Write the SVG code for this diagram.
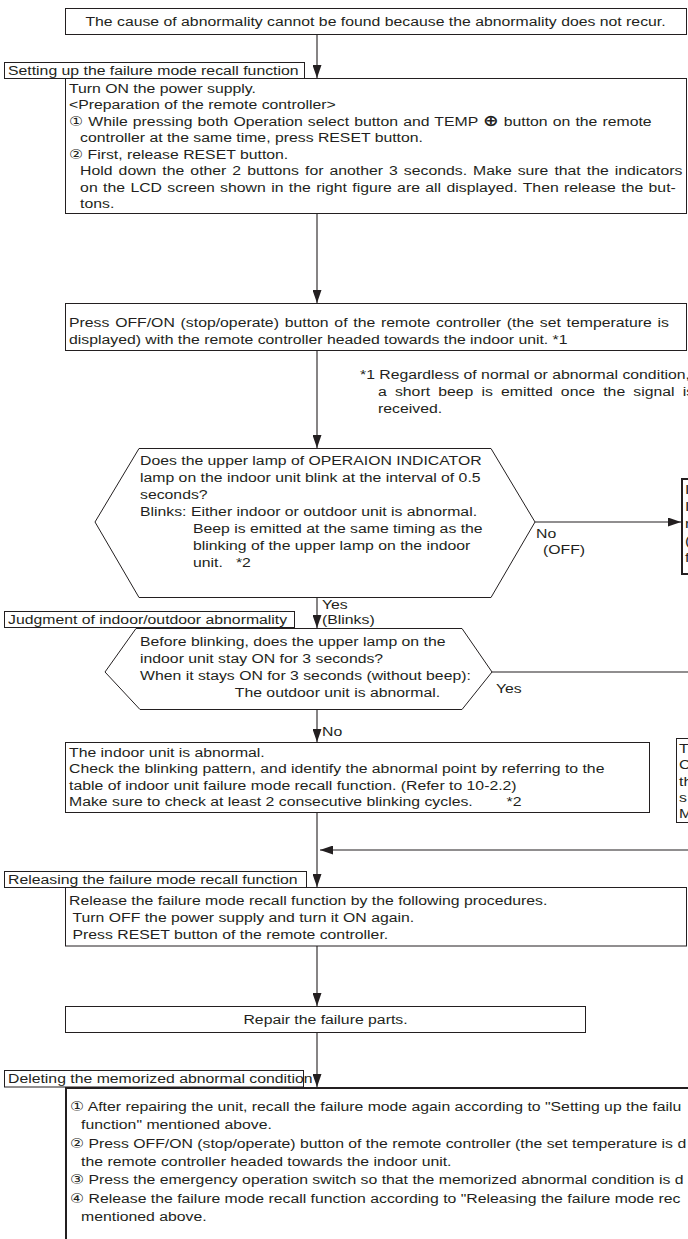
<svg xmlns="http://www.w3.org/2000/svg" width="688" height="1239" viewBox="0 0 688 1239">
<defs>
<style>
.b{fill:#fff;stroke:#231f20;stroke-width:1}
.bt{fill:#fff;stroke:#231f20;stroke-width:2}
.t{font-family:"Liberation Sans","DejaVu Sans","Noto Sans CJK JP",sans-serif;font-size:13.5px;fill:#231f20}
.m{text-anchor:middle}
.c{fill:none;stroke:#231f20;stroke-width:1.1}
</style>
<marker id="ah" markerWidth="13" markerHeight="9" refX="13" refY="4.5" orient="auto" markerUnits="userSpaceOnUse"><path d="M0,0 L13,4.5 L0,9 z" fill="#231f20"/></marker>
</defs>
<rect width="688" height="1239" fill="#fff"/>

<g id="connectors">
<line class="c" x1="317" y1="34" x2="317" y2="78" marker-end="url(#ah)"/>
<line class="c" x1="317" y1="214" x2="317" y2="303" marker-end="url(#ah)"/>
<line class="c" x1="317" y1="350" x2="317" y2="448" marker-end="url(#ah)"/>
<line class="c" x1="535" y1="522" x2="681" y2="522" marker-end="url(#ah)"/>
<line class="c" x1="317" y1="598" x2="317" y2="628" marker-end="url(#ah)"/>
<line class="c" x1="492" y1="672" x2="688" y2="672"/>
<line class="c" x1="317" y1="710" x2="317" y2="742" marker-end="url(#ah)"/>
<line class="c" x1="317" y1="813" x2="317" y2="887" marker-end="url(#ah)"/>
<line class="c" x1="688" y1="850" x2="320" y2="850" marker-end="url(#ah)"/>
<line class="c" x1="317" y1="946" x2="317" y2="1006" marker-end="url(#ah)"/>
<line class="c" x1="317" y1="1033" x2="317" y2="1087" marker-end="url(#ah)"/>
</g>

<g id="n-start">
<rect class="b" x="65.5" y="8.5" width="621" height="26"/>
<text class="t m" transform="matrix(1.17 0 0 1 375.5 0)" x="0" y="26">The cause of abnormality cannot be found because the abnormality does not recur.</text>
</g>

<g id="lbl-setup">
<rect class="b" x="4.5" y="62.5" width="300" height="16"/>
<text class="t" transform="matrix(1.17 0 0 1 8 0)" x="0" y="75">Setting up the failure mode recall function</text>
</g>

<g id="n-setup">
<rect class="b" x="65.5" y="78.5" width="621" height="135"/>
<text class="t" transform="matrix(1.17 0 0 1 69 0)">
<tspan x="0" y="93">Turn ON the power supply.</tspan>
<tspan x="0" y="109.5">&lt;Preparation of the remote controller&gt;</tspan>
<tspan x="0" y="126" word-spacing="0.6">① While pressing both Operation select button and TEMP <tspan font-weight="bold" font-size="16px">⊕</tspan> button on the remote</tspan>
<tspan x="9.5" y="142.5">controller at the same time, press RESET button.</tspan>
<tspan x="0" y="159">② First, release RESET button.</tspan>
<tspan x="9.5" y="175.5" word-spacing="1.4">Hold down the other 2 buttons for another 3 seconds. Make sure that the indicators</tspan>
<tspan x="9.5" y="192" word-spacing="0.85">on the LCD screen shown in the right figure are all displayed. Then release the but-</tspan>
<tspan x="9.5" y="208.5">tons.</tspan>
</text>
</g>

<g id="n-press">
<rect class="b" x="65.5" y="303.5" width="621" height="47"/>
<text class="t" transform="matrix(1.17 0 0 1 69 0)">
<tspan x="0" y="327" word-spacing="1.2">Press OFF/ON (stop/operate) button of the remote controller (the set temperature is</tspan>
<tspan x="0" y="344">displayed) with the remote controller headed towards the indoor unit. *1</tspan>
</text>
</g>

<g id="note1">
<text class="t" transform="matrix(1.17 0 0 1 360 0)">
<tspan x="0" y="379">*1 Regardless of normal or abnormal condition,</tspan>
<tspan x="15.4" y="396" word-spacing="3.2">a short beep is emitted once the signal is</tspan>
<tspan x="15.4" y="413">received.</tspan>
</text>
</g>

<g id="d-blink">
<polygon class="b" points="139,448.5 491,448.5 535,522 491,597.5 139,597.5 95,522"/>
<text class="t" transform="matrix(1.17 0 0 1 140 0)">
<tspan x="0" y="465">Does the upper lamp of OPERAION INDICATOR</tspan>
<tspan x="0" y="482">lamp on the indoor unit blink at the interval of 0.5</tspan>
<tspan x="0" y="499">seconds?</tspan>
<tspan x="0" y="516">Blinks: Either indoor or outdoor unit is abnormal.</tspan>
<tspan x="45.3" y="533">Beep is emitted at the same timing as the</tspan>
<tspan x="45.3" y="550">blinking of the upper lamp on the indoor</tspan>
<tspan x="45.3" y="567">unit.</tspan><tspan x="82" y="567">*2</tspan>
</text>
</g>

<g id="lbl-no1">
<text class="t" transform="matrix(1.17 0 0 1 536 0)"><tspan x="0" y="538">No</tspan><tspan x="6" y="554">(OFF)</tspan></text>
</g>

<g id="n-right1">
<rect class="bt" x="682" y="479" width="20" height="95"/>
<text class="t" transform="matrix(1.17 0 0 1 685 0)">
<tspan x="0" y="494">I</tspan>
<tspan x="0" y="511">I</tspan>
<tspan x="0" y="528">r</tspan>
<tspan x="0" y="545">(</tspan>
<tspan x="0" y="562">f</tspan>
</text>
</g>

<g id="lbl-yes1">
<text class="t" transform="matrix(1.17 0 0 1 322 0)"><tspan x="0" y="609">Yes</tspan><tspan x="0" y="624">(Blinks)</tspan></text>
</g>

<g id="lbl-judge">
<rect class="b" x="4.5" y="611.5" width="290" height="16"/>
<text class="t" transform="matrix(1.17 0 0 1 8 0)" x="0" y="624">Judgment of indoor/outdoor abnormality</text>
</g>

<g id="d-outdoor">
<polygon class="b" points="136,628.5 462,628.5 492,672 462,709.5 140,709.5 105,672"/>
<text class="t" transform="matrix(1.17 0 0 1 140 0)">
<tspan x="0" y="646">Before blinking, does the upper lamp on the</tspan>
<tspan x="0" y="663">indoor unit stay ON for 3 seconds?</tspan>
<tspan x="0" y="680">When it stays ON for 3 seconds (without beep):</tspan>
<tspan x="81" y="697">The outdoor unit is abnormal.</tspan>
</text>
</g>

<g id="lbl-yes2">
<text class="t" transform="matrix(1.17 0 0 1 496 0)" x="0" y="693">Yes</text>
</g>
<g id="lbl-no2">
<text class="t" transform="matrix(1.17 0 0 1 322 0)" x="0" y="736">No</text>
</g>

<g id="n-indoor">
<rect class="b" x="65.5" y="742.5" width="584" height="70"/>
<text class="t" transform="matrix(1.17 0 0 1 69 0)">
<tspan x="0" y="757">The indoor unit is abnormal.</tspan>
<tspan x="0" y="773.5">Check the blinking pattern, and identify the abnormal point by referring to the</tspan>
<tspan x="0" y="790">table of indoor unit failure mode recall function. (Refer to 10-2.2)</tspan>
<tspan x="0" y="806.5">Make sure to check at least 2 consecutive blinking cycles.</tspan><tspan x="374" y="806.5">*2</tspan>
</text>
</g>

<g id="n-right2">
<rect class="b" x="676.5" y="738.5" width="20" height="84"/>
<text class="t" transform="matrix(1.17 0 0 1 679 0)">
<tspan x="0" y="753">T</tspan>
<tspan x="0" y="769">C</tspan>
<tspan x="0" y="786">th</tspan>
<tspan x="0" y="802">s</tspan>
<tspan x="0" y="818">M</tspan>
</text>
</g>

<g id="lbl-release">
<rect class="b" x="4.5" y="871.5" width="302" height="16"/>
<text class="t" transform="matrix(1.17 0 0 1 8 0)" x="0" y="884">Releasing the failure mode recall function</text>
</g>

<g id="n-release">
<rect class="b" x="65.5" y="887.5" width="621" height="58.5"/>
<text class="t" transform="matrix(1.17 0 0 1 69 0)">
<tspan x="0" y="905">Release the failure mode recall function by the following procedures.</tspan>
<tspan x="3" y="922">Turn OFF the power supply and turn it ON again.</tspan>
<tspan x="3" y="939.5">Press RESET button of the remote controller.</tspan>
</text>
</g>

<g id="n-repair">
<rect class="b" x="65.5" y="1006.5" width="520" height="26"/>
<text class="t m" transform="matrix(1.17 0 0 1 325.5 0)" x="0" y="1024">Repair the failure parts.</text>
</g>

<g id="lbl-delete">
<rect class="b" x="4.5" y="1070.5" width="299" height="16.5"/>
<text class="t" transform="matrix(1.17 0 0 1 8 0)" x="0" y="1083">Deleting the memorized abnormal condition</text>
</g>

<g id="n-delete">
<path d="M66,1239 V1088 H690" fill="none" stroke="#231f20" stroke-width="2"/>
<text class="t" transform="matrix(1.17 0 0 1 70 0)">
<tspan x="0" y="1111">① After repairing the unit, recall the failure mode again according to "Setting up the failu</tspan>
<tspan x="9.5" y="1129">function" mentioned above.</tspan>
<tspan x="0" y="1148">② Press OFF/ON (stop/operate) button of the remote controller (the set temperature is d</tspan>
<tspan x="9.5" y="1166">the remote controller headed towards the indoor unit.</tspan>
<tspan x="0" y="1184">③ Press the emergency operation switch so that the memorized abnormal condition is d</tspan>
<tspan x="0" y="1203">④ Release the failure mode recall function according to "Releasing the failure mode rec</tspan>
<tspan x="9.5" y="1221">mentioned above.</tspan>
</text>
</g>
</svg>
